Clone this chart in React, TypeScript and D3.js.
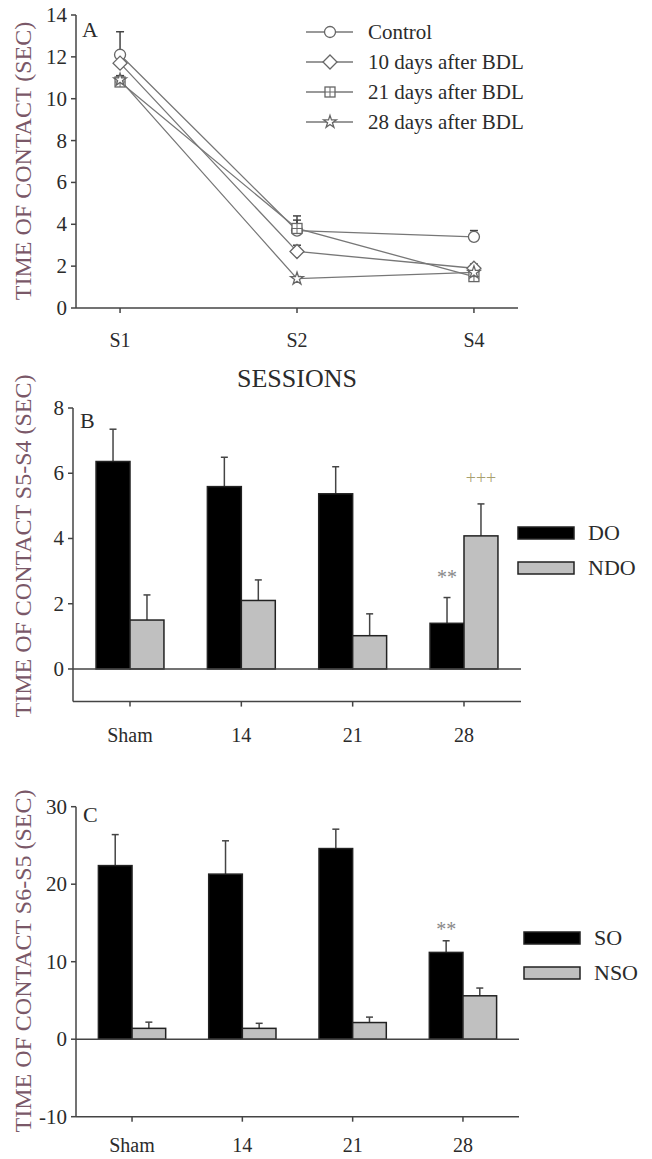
import React from "react";
import * as d3 from "d3";

// Panel A - time of contact per session
const sessions = ["S1", "S2", "S4"];
const seriesNames = ["Control", "10 days after BDL", "21 days after BDL", "28 days after BDL"];
const controlMean = [12.1, 3.7, 3.4];
const controlErr = [1.1, 0.5, 0.3];
const day10Mean = [11.7, 2.7, 1.9];
const day10Err = [0.3, 0.3, 0.2];
const day21Mean = [10.8, 3.8, 1.5];
const day21Err = [0.3, 0.6, 0.2];
const day28Mean = [10.9, 1.4, 1.7];
const day28Err = [0.2, 0.1, 0.2];
const ticksA = [0, 2, 4, 6, 8, 10, 12, 14];

// Panel B - S5-S4
const groups = ["Sham", "14", "21", "28"];
const doMean = [6.36, 5.59, 5.37, 1.4];
const doErr = [0.99, 0.9, 0.83, 0.79];
const ndoMean = [1.5, 2.1, 1.02, 4.08];
const ndoErr = [0.77, 0.63, 0.67, 0.98];
const ticksB = [0, 2, 4, 6, 8];

// Panel C - S6-S5
const soMean = [22.4, 21.3, 24.6, 11.2];
const soErr = [4.0, 4.3, 2.5, 1.5];
const nsoMean = [1.4, 1.4, 2.15, 5.6];
const nsoErr = [0.8, 0.65, 0.7, 1.0];
const ticksC = [-10, 0, 10, 20, 30];

const FONT = "Liberation Serif, Times New Roman, serif";
const TXT = "#2b2b2b";
const AXIS = "#444";
const LABEL = "#7a5868";
const LINE = "#777";

const series = [
  { name: seriesNames[0], mean: controlMean, err: controlErr, shape: "circle" },
  { name: seriesNames[1], mean: day10Mean, err: day10Err, shape: "diamond" },
  { name: seriesNames[2], mean: day21Mean, err: day21Err, shape: "square" },
  { name: seriesNames[3], mean: day28Mean, err: day28Err, shape: "star" },
];

const Marker = ({ shape, x, y }: { shape: string; x: number; y: number }) => {
  const st = { fill: "#fff", stroke: "#666", strokeWidth: 1.3 };
  if (shape === "circle") return <circle cx={x} cy={y} r={5.5} {...st} />;
  if (shape === "diamond")
    return <path d={`M${x},${y - 7}L${x + 7},${y}L${x},${y + 7}L${x - 7},${y}Z`} {...st} />;
  if (shape === "square")
    return (
      <g>
        <rect x={x - 5} y={y - 5} width={10} height={10} {...st} />
        <path d={`M${x},${y - 5}V${y + 5}M${x - 5},${y}H${x + 5}`} stroke="#666" strokeWidth={1} />
      </g>
    );
  const star = d3.symbol().type(d3.symbolStar).size(50)();
  return <path d={star || ""} transform={`translate(${x},${y})`} {...st} />;
};

const ErrBar = ({ x, y0, y1, cap = 7 }: { x: number; y0: number; y1: number; cap?: number }) => (
  <g stroke={AXIS} strokeWidth={1.5}>
    <line x1={x} x2={x} y1={y0} y2={y1} />
    <line x1={x - cap / 2} x2={x + cap / 2} y1={y1} y2={y1} />
  </g>
);

const PanelA = () => {
  const x = d3.scalePoint<string>().domain(sessions).range([76, 518]).padding(0.249);
  const y = d3.scaleLinear().domain([0, 14]).range([308, 15]);
  const line = d3
    .line<number>()
    .x((_, i) => x(sessions[i]) as number)
    .y((d) => y(d));
  return (
    <g>
      {/* axes */}
      <line x1={76} x2={76} y1={y(14)} y2={y(0)} stroke={AXIS} strokeWidth={1.5} />
      <line x1={76} x2={518} y1={y(0)} y2={y(0)} stroke={AXIS} strokeWidth={1.5} />
      {ticksA.map((t) => (
        <g key={t}>
          <line x1={71} x2={76} y1={y(t)} y2={y(t)} stroke={AXIS} strokeWidth={1.5} />
          <text x={67} y={y(t) + 7} textAnchor="end" fontSize={21} fill={TXT}>
            {t}
          </text>
        </g>
      ))}
      {sessions.map((s) => (
        <g key={s}>
          <line x1={x(s)} x2={x(s)} y1={y(0)} y2={y(0) + 5} stroke={AXIS} strokeWidth={1.5} />
          <text x={x(s)} y={347} textAnchor="middle" fontSize={20} fill={TXT}>
            {s}
          </text>
        </g>
      ))}
      <text x={297} y={387} textAnchor="middle" fontSize={26} fill={TXT}>
        SESSIONS
      </text>
      <text x={82} y={37} fontSize={22} fill={TXT}>
        A
      </text>
      <text transform="translate(31,161) rotate(-90)" textAnchor="middle" fontSize={24} fill={LABEL}>
        TIME OF CONTACT (SEC)
      </text>
      {/* lines */}
      {series.map((s) => (
        <path key={s.name} d={line(s.mean) || ""} fill="none" stroke={LINE} strokeWidth={1.3} />
      ))}
      {series.map((s) =>
        s.mean.map((m, i) => (
          <ErrBar key={s.name + i} x={x(sessions[i]) as number} y0={y(m)} y1={y(m + s.err[i])} cap={8} />
        ))
      )}
      {series.map((s) =>
        s.mean.map((m, i) => <Marker key={s.name + "m" + i} shape={s.shape} x={x(sessions[i]) as number} y={y(m)} />)
      )}
      {/* legend */}
      {series.map((s, i) => {
        const ly = 32 + i * 30;
        return (
          <g key={"lg" + s.name}>
            <line x1={306} x2={353} y1={ly} y2={ly} stroke={LINE} strokeWidth={1.3} />
            <Marker shape={s.shape} x={330} y={ly} />
            <text x={368} y={ly + 7} fontSize={21} fill={TXT}>
              {s.name}
            </text>
          </g>
        );
      })}
    </g>
  );
};

type BarProps = {
  yDomain: [number, number];
  yRange: [number, number];
  xRange: [number, number];
  pad: number;
  ticks: number[];
  a: number[];
  aErr: number[];
  b: number[];
  bErr: number[];
  names: [string, string];
  letter: string;
  letterY: number;
  ylabel: string;
  ylabelY: number;
  legendX: number;
  legendY: number;
  labelY: number;
  children?: React.ReactNode;
};

const BarPanel = (p: BarProps) => {
  const x = d3.scalePoint<string>().domain(groups).range(p.xRange).padding(p.pad);
  const y = d3.scaleLinear().domain(p.yDomain).range(p.yRange);
  const bw = x.step() * 0.305;
  const [x0, x1] = p.xRange;
  const bottom = y(p.yDomain[0]);
  return (
    <g>
      <text x={x0 + 7} y={p.letterY} fontSize={22} fill={TXT}>
        {p.letter}
      </text>
      <text
        transform={`translate(31,${p.ylabelY}) rotate(-90)`}
        textAnchor="middle"
        fontSize={24}
        fill={LABEL}
      >
        {p.ylabel}
      </text>
      {groups.map((g, i) => {
        const cx = x(g) as number;
        return (
          <g key={g}>
            <ErrBar x={cx - bw / 2} y0={y(p.a[i])} y1={y(p.a[i] + p.aErr[i])} />
            <ErrBar x={cx + bw / 2} y0={y(p.b[i])} y1={y(p.b[i] + p.bErr[i])} />
            <rect x={cx - bw} y={y(p.a[i])} width={bw} height={y(0) - y(p.a[i])} fill="#000" stroke="#222" strokeWidth={1.5} />
            <rect x={cx} y={y(p.b[i])} width={bw} height={y(0) - y(p.b[i])} fill="#c0c0c0" stroke="#222" strokeWidth={1.5} />
            <line x1={cx} x2={cx} y1={bottom} y2={bottom + 5} stroke={AXIS} strokeWidth={1.5} />
            <text x={cx} y={p.labelY} textAnchor="middle" fontSize={20} fill={TXT}>
              {g}
            </text>
          </g>
        );
      })}
      <line x1={x0} x2={x0} y1={p.yRange[1]} y2={bottom} stroke={AXIS} strokeWidth={1.5} />
      <line x1={x0} x2={x1} y1={y(0)} y2={y(0)} stroke={AXIS} strokeWidth={1.5} />
      <line x1={x0} x2={x1} y1={bottom} y2={bottom} stroke={AXIS} strokeWidth={1.5} />
      {p.ticks.map((t) => (
        <g key={t}>
          <line x1={x0 - 5} x2={x0} y1={y(t)} y2={y(t)} stroke={AXIS} strokeWidth={1.5} />
          <text x={x0 - 9} y={y(t) + 7} textAnchor="end" fontSize={21} fill={TXT}>
            {t}
          </text>
        </g>
      ))}
      {/* legend */}
      <rect x={p.legendX} y={p.legendY} width={56} height={12} fill="#000" stroke="#222" strokeWidth={1.5} />
      <rect x={p.legendX} y={p.legendY + 35} width={56} height={12} fill="#c0c0c0" stroke="#222" strokeWidth={1.5} />
      <text x={p.legendX + 70} y={p.legendY + 13} fontSize={22} fill={TXT}>
        {p.names[0]}
      </text>
      <text x={p.legendX + 70} y={p.legendY + 48} fontSize={22} fill={TXT}>
        {p.names[1]}
      </text>
      {p.children}
    </g>
  );
};

export default function App() {
  const yB = d3.scaleLinear().domain([-1, 8]).range([701.6, 408]);
  const yC = d3.scaleLinear().domain([-10, 30]).range([1116.7, 806.7]);
  const xB = d3.scalePoint<string>().domain(groups).range([73, 521]).padding(0.512);
  const xC = d3.scalePoint<string>().domain(groups).range([76, 519]).padding(0.508);
  const bwB = xB.step() * 0.305;
  const bwC = xC.step() * 0.305;
  return (
    <div style={{ position: "absolute", left: 0, top: 0 }}>
      <style>{`body{margin:0;background:#fff} svg text{font-family:"Liberation Serif","Times New Roman",serif}`}</style>
      <svg width={652} height={1159} style={{ display: "block" }} fontFamily={FONT}>
        <rect width={652} height={1159} fill="#fff" />
        <PanelA />
        <BarPanel
          yDomain={[-1, 8]}
          yRange={[701.6, 408]}
          xRange={[73, 521]}
          pad={0.512}
          ticks={ticksB}
          a={doMean}
          aErr={doErr}
          b={ndoMean}
          bErr={ndoErr}
          names={["DO", "NDO"]}
          letter="B"
          letterY={428}
          ylabel="TIME OF CONTACT S5-S4 (SEC)"
          ylabelY={546}
          legendX={518}
          legendY={527}
          labelY={742}
        >
          <text x={(xB("28") as number) - bwB / 2} y={yB(doMean[3] + doErr[3]) - 14} textAnchor="middle" fontSize={20} fill="#888">
            **
          </text>
          <text x={(xB("28") as number) + bwB / 2} y={yB(ndoMean[3] + ndoErr[3]) - 20} textAnchor="middle" fontSize={18} fill="#a8a070">
            +++
          </text>
        </BarPanel>
        <BarPanel
          yDomain={[-10, 30]}
          yRange={[1116.7, 806.7]}
          xRange={[76, 519]}
          pad={0.508}
          ticks={ticksC}
          a={soMean}
          aErr={soErr}
          b={nsoMean}
          bErr={nsoErr}
          names={["SO", "NSO"]}
          letter="C"
          letterY={822}
          ylabel="TIME OF CONTACT S6-S5 (SEC)"
          ylabelY={961}
          legendX={524}
          legendY={932}
          labelY={1152}
        >
          <text x={(xC("28") as number) - bwC / 2} y={yC(soMean[3] + soErr[3]) - 5} textAnchor="middle" fontSize={20} fill="#888">
            **
          </text>
        </BarPanel>
      </svg>
    </div>
  );
}
